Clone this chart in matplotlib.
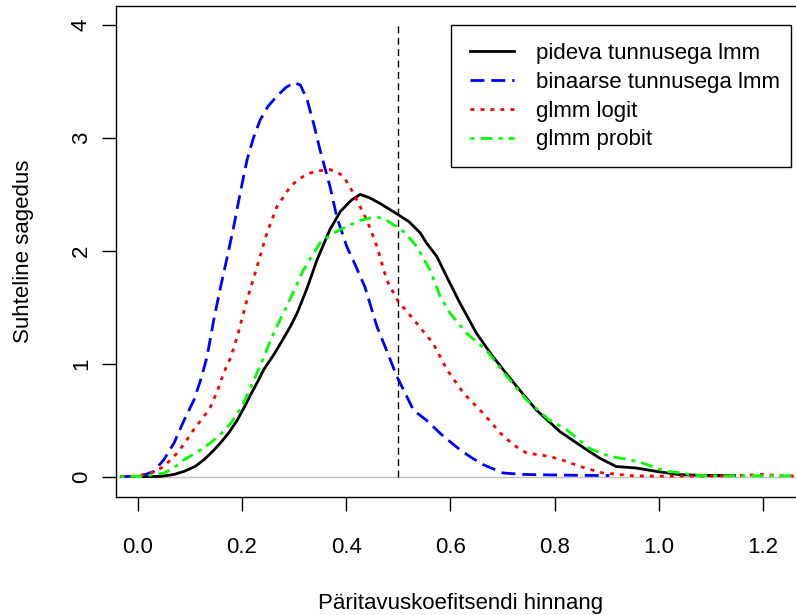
import numpy as np
import matplotlib
matplotlib.use("Agg")
import matplotlib.pyplot as plt
from matplotlib.patches import Rectangle
from matplotlib.transforms import IdentityTransform

plt.rcParams['font.family'] = ['Liberation Sans', 'DejaVu Sans']

# pideva tunnusega lmm (must)
x_pideva = [0.01, 0.044, 0.07, 0.089, 0.11, 0.127, 0.145, 0.159, 0.175, 0.191, 0.205, 0.216, 0.23,
            0.242, 0.261, 0.274, 0.293, 0.306, 0.325, 0.344, 0.369, 0.389, 0.41, 0.427, 0.445, 0.465,
            0.5, 0.52, 0.542, 0.554, 0.574, 0.593, 0.618, 0.65, 0.682, 0.727, 0.765, 0.81, 0.848,
            0.886, 0.918, 0.956, 0.995, 1.04, 1.08, 1.145]
y_pideva = [0.0, 0.003, 0.02, 0.047, 0.09, 0.15, 0.23, 0.30, 0.39, 0.50, 0.62, 0.72, 0.84,
            0.95, 1.08, 1.18, 1.33, 1.45, 1.67, 1.92, 2.19, 2.35, 2.45, 2.50, 2.47, 2.42,
            2.32, 2.26, 2.16, 2.07, 1.95, 1.77, 1.54, 1.27, 1.06, 0.80, 0.59, 0.40, 0.28,
            0.165, 0.09, 0.077, 0.047, 0.018, 0.012, 0.01]

# binaarse tunnusega lmm (sinine)
x_binaar = [-0.033, 0.0, 0.015, 0.031, 0.05, 0.07, 0.089, 0.108, 0.121, 0.133, 0.146, 0.159, 0.172,
            0.184, 0.197, 0.21, 0.222, 0.235, 0.25, 0.267, 0.285, 0.3, 0.312, 0.325, 0.338, 0.35,
            0.369, 0.382, 0.401, 0.417, 0.436, 0.459, 0.48, 0.497, 0.51, 0.529, 0.554, 0.586,
            0.618, 0.64, 0.663, 0.701, 0.739, 0.8, 0.85, 0.905]
y_binaar = [0.0, 0.005, 0.02, 0.047, 0.15, 0.30, 0.50, 0.68, 0.86, 1.06, 1.39, 1.68, 1.95,
            2.21, 2.52, 2.81, 3.0, 3.16, 3.28, 3.37, 3.45, 3.49, 3.47, 3.34, 3.12, 2.89,
            2.57, 2.30, 2.04, 1.88, 1.68, 1.33, 1.09, 0.89, 0.77, 0.59, 0.50, 0.36,
            0.24, 0.17, 0.106, 0.033, 0.02, 0.015, 0.012, 0.01]

# glmm logit (punane)
x_logit = [-0.033, 0.0, 0.012, 0.03, 0.05, 0.076, 0.092, 0.108, 0.125, 0.14, 0.153, 0.165, 0.178,
           0.191, 0.203, 0.21, 0.229, 0.248, 0.267, 0.293, 0.31, 0.331, 0.35, 0.369, 0.382, 0.395,
           0.414, 0.44, 0.459, 0.478, 0.5, 0.517, 0.535, 0.567, 0.593, 0.625, 0.663, 0.701, 0.725,
           0.746, 0.79, 0.816, 0.854, 0.892, 0.95, 1.0, 1.1, 1.15, 1.2, 1.23, 1.28]
y_logit = [0.0, 0.005, 0.018, 0.04, 0.09, 0.21, 0.31, 0.42, 0.52, 0.62, 0.76, 0.92, 1.05,
           1.24, 1.45, 1.57, 1.86, 2.16, 2.39, 2.57, 2.64, 2.69, 2.71, 2.72, 2.70, 2.66,
           2.51, 2.27, 2.04, 1.74, 1.55, 1.46, 1.36, 1.18, 0.95, 0.74, 0.56, 0.36, 0.27,
           0.21, 0.18, 0.145, 0.083, 0.033, 0.008, 0.005, 0.005, 0.01, 0.02, 0.01, 0.005]

# glmm probit (roheline)
x_probit = [-0.033, 0.0, 0.012, 0.05, 0.07, 0.089, 0.115, 0.14, 0.16, 0.178, 0.19, 0.203, 0.216,
            0.229, 0.242, 0.255, 0.27, 0.286, 0.302, 0.318, 0.335, 0.35, 0.37, 0.389, 0.408,
            0.427, 0.445, 0.459, 0.475, 0.491, 0.503, 0.517, 0.535, 0.561, 0.58, 0.599, 0.631,
            0.669, 0.708, 0.746, 0.79, 0.822, 0.867, 0.905, 0.944, 0.969, 0.995, 1.014, 1.046,
            1.065, 1.15, 1.28]
y_probit = [0.0, 0.003, 0.005, 0.03, 0.08, 0.15, 0.22, 0.30, 0.38, 0.47, 0.55, 0.65, 0.78,
            0.92, 1.06, 1.21, 1.36, 1.51, 1.67, 1.83, 1.96, 2.07, 2.14, 2.19, 2.23,
            2.27, 2.29, 2.30, 2.28, 2.23, 2.20, 2.14, 2.04, 1.83, 1.60, 1.45, 1.27,
            1.12, 0.89, 0.68, 0.50, 0.42, 0.25, 0.18, 0.15, 0.12, 0.077, 0.047, 0.033,
            0.01, 0.008, 0.008]

labels = ["pideva tunnusega lmm", "binaarse tunnusega lmm", "glmm logit", "glmm probit"]
x_ticks = [0.0, 0.2, 0.4, 0.6, 0.8, 1.0, 1.2]
y_ticks = [0, 1, 2, 3, 4]
h_true = 0.5

W, H = 796, 615
fig = plt.figure(figsize=(W / 100, H / 100), dpi=100)
ax = fig.add_axes([115.7 / W, (H - 497) / H, (806.3 - 115.7) / W, (497 - 6) / H])

ax.axhline(0, color='#BEBEBE', lw=1, zorder=1)
ax.plot([h_true, h_true], [0, 4], color='black', lw=1, dashes=(5, 3.2), zorder=2)

l1, = ax.plot(x_pideva, y_pideva, color='black', lw=2, zorder=3)
l2, = ax.plot(x_binaar, y_binaar, color='#0000FF', lw=2, dashes=(5, 2.5), zorder=3)
l3, = ax.plot(x_logit, y_logit, color='#FF0000', lw=2, dashes=(1.4, 2.2), zorder=3)
l4, = ax.plot(x_probit, y_probit, color='#00FF00', lw=2, dashes=(1.4, 2.2, 4.3, 2.2), zorder=3)

ax.set_xlim(-0.0422, 1.2828)
ax.set_ylim(-0.18, 4.169)
ax.set_xticks(x_ticks)
ax.set_xticklabels([f"{t:.1f}" for t in x_ticks])
ax.set_yticks(y_ticks)
ax.set_yticklabels([str(t) for t in y_ticks])

for s in ax.spines.values():
    s.set_linewidth(1)
ax.tick_params(direction='out', length=10, width=1, labelsize=16)
ax.tick_params(axis='x', pad=19)
ax.tick_params(axis='y', pad=7.2, labelrotation=90)
for lab in ax.get_yticklabels():
    lab.set_va('center')

ax.set_xlabel("Päritavuskoefitsendi hinnang", fontsize=16, labelpad=25)
ax.set_ylabel("Suhteline sagedus", fontsize=16, labelpad=26.6)

leg = ax.legend([l1, l2, l3, l4], labels, loc='upper left',
                bbox_to_anchor=(470 / W, 1 - 43 / H), bbox_transform=fig.transFigure,
                frameon=False, borderpad=0, borderaxespad=0, handlelength=2.0,
                handletextpad=0.95, labelspacing=0.35, fontsize=16)

fig.canvas.draw()
bb = leg.get_window_extent()
frame = Rectangle((bb.x0 - 19, bb.y0 - 17), bb.width + 30, bb.height + 35,
                  transform=IdentityTransform(), fill=False, edgecolor='black', lw=1)
fig.add_artist(frame)

fig.savefig("out.png", dpi=100)
